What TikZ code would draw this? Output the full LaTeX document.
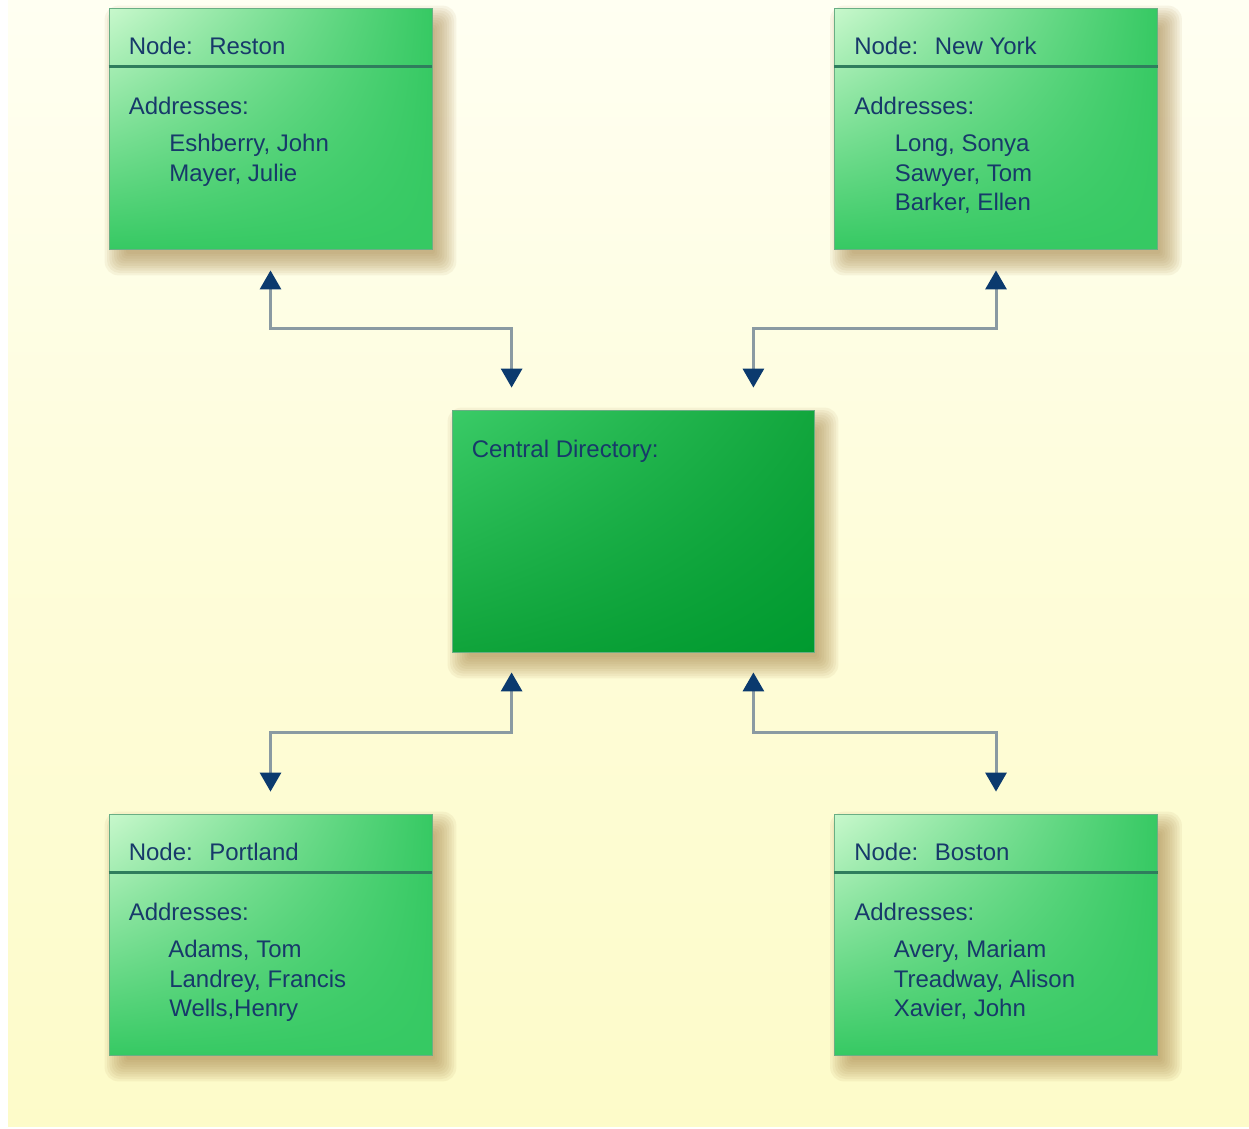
\documentclass[tikz,border=0pt]{standalone}
\usepackage{fontspec}
\setmainfont{Liberation Sans}
\usetikzlibrary{arrows.meta,calc,shadings}
\definecolor{txt}{HTML}{17396A}
\definecolor{navy}{HTML}{0B3A6E}
\definecolor{linegray}{HTML}{8A9AA2}
\definecolor{hdr}{HTML}{2F7D5D}
\definecolor{edge}{HTML}{6AAE84}
\definecolor{gUL}{HTML}{C8F8CC}
\definecolor{gG}{HTML}{36C963}
\definecolor{cUL}{HTML}{3ACB67}
\definecolor{cUR}{HTML}{12A63D}
\definecolor{cLL}{HTML}{10A43B}
\definecolor{cLR}{HTML}{009A2F}
\definecolor{bgtop}{HTML}{FFFFF2}
\definecolor{bgbot}{HTML}{FDFBC9}
\definecolor{shad}{HTML}{A8864A}
\pgfdeclarelayer{bgl}
\pgfdeclarelayer{shl}
\pgfsetlayers{bgl,shl,main}
\begin{document}
\begin{tikzpicture}[x=1pt,y=-1pt,
  sidebox/.style={rectangle, draw=edge, line width=0.8pt, inner sep=0pt,
    minimum width=323pt, minimum height=241pt,
    upper left=gUL, upper right=gG, lower left=gG, lower right=gG},
  centralbox/.style={rectangle, draw=edge, line width=0.8pt, inner sep=0pt,
    minimum width=362pt, minimum height=242pt,
    upper left=cUL, upper right=cUR, lower left=cLL, lower right=cLR},
  shadowlayer/.style={fill=shad, fill opacity=0.085},
  lbl/.style={inner sep=0pt, anchor=base west, text=txt, font=\fontsize{24}{29.5}\selectfont},
  hdrline/.style={draw=hdr, line width=3pt},
  conn/.style={draw=linegray, line width=3pt,
    {Triangle[width=21pt,length=19pt,color=navy]}-{Triangle[width=21pt,length=19pt,color=navy]}}
]
\begin{pgfonlayer}{bgl}
\path[use as bounding box] (0,0) rectangle (1249,1128);
\fill[white] (0,0) rectangle (1249,1128);
\shade[top color=bgtop, bottom color=bgbot, middle color=bgbot!60!bgtop] (8,0) rectangle (1249,1126);
\end{pgfonlayer}

% boxes
\node[sidebox] (reston) at (270.5,128.5) {};
\node[sidebox] (newyork) at (996,128.5) {};
\node[sidebox] (portland) at (270.5,934.5) {};
\node[sidebox] (boston) at (996,934.5) {};
\node[centralbox] (central) at (633,531) {};

% shadows
\begin{pgfonlayer}{shl}
\foreach \b in {reston,newyork,portland,boston,central}{
  \foreach \k in {0,...,9}{
    \pgfmathsetmacro{\e}{14-2.4*\k}
    \pgfmathsetmacro{\rc}{max(1,14-1.3*\k)}
    \fill[shadowlayer, rounded corners=\rc pt]
      ($(\b.north west)+(10-\e,12-\e)$) rectangle ($(\b.south east)+(10+\e,12+\e)$);
  }
}
\end{pgfonlayer}

% header lines
\foreach \b in {reston,newyork,portland,boston}{
  \draw[hdrline] ($(\b.north west)+(0,59)$) -- ($(\b.north east)+(0,59)$);
}

% texts
\node[lbl] (rT) at ($(reston.north west)+(20,47)$) {Node:\hspace{16.5pt}Reston};
\node[lbl] (rA) at ($(reston.north west)+(20,107)$) {Addresses:};
\node[lbl] (r1) at ($(reston.north west)+(60.5,144)$) {Eshberry, John};
\node[lbl] (r2) at ($(reston.north west)+(60.5,173.5)$) {Mayer, Julie};

\node[lbl] (nT) at ($(newyork.north west)+(20,47)$) {Node:\hspace{16.5pt}New York};
\node[lbl] (nA) at ($(newyork.north west)+(20,107)$) {Addresses:};
\node[lbl] (n1) at ($(newyork.north west)+(60.5,144)$) {Long, Sonya};
\node[lbl] (n2) at ($(newyork.north west)+(60.5,173.5)$) {Sawyer, Tom};
\node[lbl] (n3) at ($(newyork.north west)+(60.5,203)$) {Barker, Ellen};

\node[lbl] (pT) at ($(portland.north west)+(20,47)$) {Node:\hspace{16.5pt}Portland};
\node[lbl] (pA) at ($(portland.north west)+(20,107)$) {Addresses:};
\node[lbl] (p1) at ($(portland.north west)+(59.5,144)$) {Adams, Tom};
\node[lbl] (p2) at ($(portland.north west)+(60.5,173.5)$) {Landrey, Francis};
\node[lbl] (p3) at ($(portland.north west)+(60.5,203)$) {Wells,Henry};

\node[lbl] (bT) at ($(boston.north west)+(20,47)$) {Node:\hspace{16.5pt}Boston};
\node[lbl] (bA) at ($(boston.north west)+(20,107)$) {Addresses:};
\node[lbl] (b1) at ($(boston.north west)+(59.5,144)$) {Avery, Mariam};
\node[lbl] (b2) at ($(boston.north west)+(59.5,173.5)$) {Treadway, Alison};
\node[lbl] (b3) at ($(boston.north west)+(59.5,203)$) {Xavier, John};

\node[lbl] (cT) at ($(central.north west)+(20,48)$) {Central Directory:};

% connectors
\draw[conn] ([yshift=-21pt]reston.south) -- ++(0,58) -| ($(central.north west)+(60,-22)$);
\draw[conn] ([yshift=-21pt]newyork.south) -- ++(0,58) -| ($(central.north east)+(-61,-22)$);
\draw[conn] ($(central.south west)+(60,20)$) -- ++(0,60) -| ([yshift=22pt]portland.north);
\draw[conn] ($(central.south east)+(-61,20)$) -- ++(0,60) -| ([yshift=22pt]boston.north);
\end{tikzpicture}
\end{document}
